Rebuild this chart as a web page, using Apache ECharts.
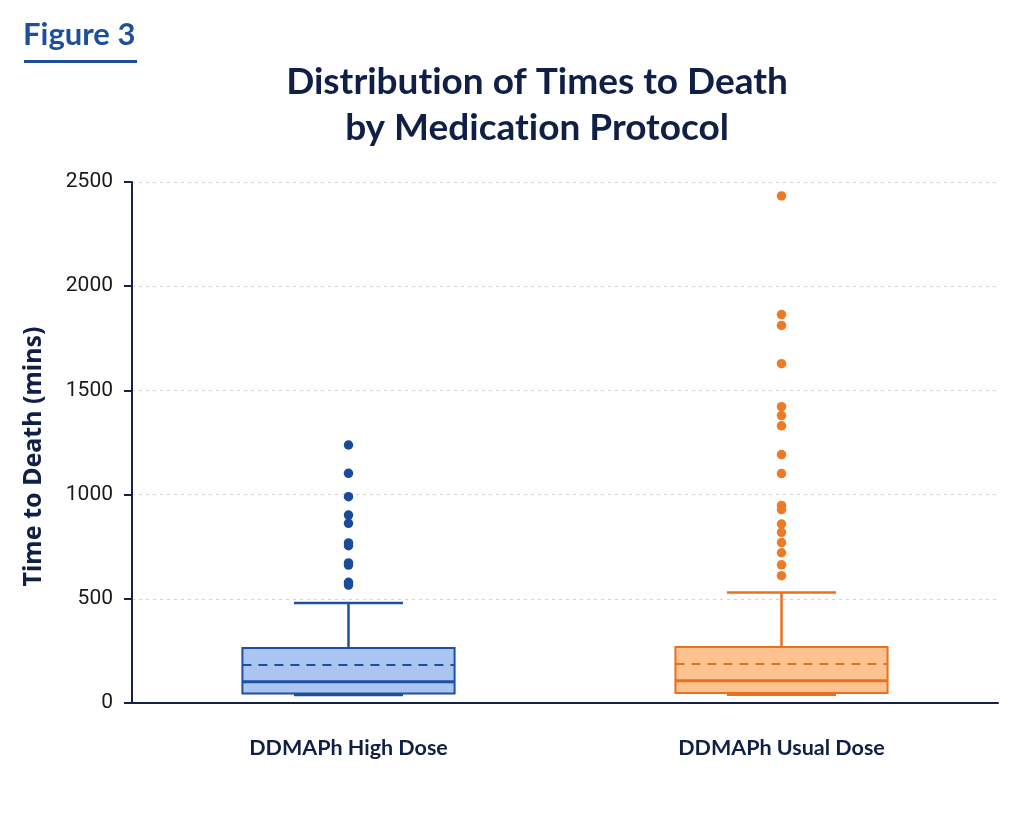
<!DOCTYPE html>
<html>
<head>
<meta charset="utf-8">
<script src="https://cdn.jsdelivr.net/npm/echarts@6/dist/echarts.min.js"></script>
<style>
html,body{margin:0;padding:0;background:#fff;}
#chart{width:1024px;height:819px;}
</style>
</head>
<body>
<div id="chart"></div>
<script>
const categories = ['DDMAPh High Dose', 'DDMAPh Usual Dose'];
const lowWhisker = [38, 40];
const q1 = [46, 48];
const median = [102, 107];
const q3 = [264, 269];
const highWhisker = [480, 530];
const mean = [182, 187];
const highDoseOutliers = [1238, 1102, 990, 902, 862, 768, 755, 672, 662, 579, 566];
const usualDoseOutliers = [2433, 1864, 1812, 1628, 1422, 1379, 1330, 1192, 1101, 948, 928, 859, 819, 770, 721, 663, 611];
const yMin = 0, yMax = 2500, yInterval = 500;

const strokeColors = ['#1f4fa0', '#e8711d'];
const fillColors = ['#a9c5f0', '#fcc290'];
const dotColors = ['#1a4b9b', '#ef7a24'];

const boxData = categories.map((c, i) => [i, lowWhisker[i], q1[i], median[i], q3[i], highWhisker[i], mean[i]]);

const chart = echarts.init(document.getElementById('chart'));

function renderBox(params, api) {
  const i = api.value(0);
  const band = api.size([1, 0])[0];
  const bw = band * 0.49;
  const cw = band * 0.252;
  const pLow = api.coord([i, api.value(1)]);
  const pQ1 = api.coord([i, api.value(2)]);
  const pMed = api.coord([i, api.value(3)]);
  const pQ3 = api.coord([i, api.value(4)]);
  const pHigh = api.coord([i, api.value(5)]);
  const pMean = api.coord([i, api.value(6)]);
  const x = pMed[0];
  const sc = strokeColors[i];
  return {
    type: 'group',
    children: [
      { type: 'line', shape: { x1: x, y1: pHigh[1], x2: x, y2: pQ3[1] }, style: { stroke: sc, lineWidth: 2.5 } },
      { type: 'line', shape: { x1: x - cw / 2, y1: pHigh[1], x2: x + cw / 2, y2: pHigh[1] }, style: { stroke: sc, lineWidth: 2.5 } },
      { type: 'line', shape: { x1: x, y1: pQ1[1], x2: x, y2: pLow[1] }, style: { stroke: sc, lineWidth: 2 } },
      { type: 'line', shape: { x1: x - cw / 2, y1: pLow[1], x2: x + cw / 2, y2: pLow[1] }, style: { stroke: sc, lineWidth: 2.5 } },
      { type: 'rect', shape: { x: x - bw / 2, y: pQ3[1], width: bw, height: pQ1[1] - pQ3[1] }, style: { fill: fillColors[i], stroke: sc, lineWidth: 2 } },
      { type: 'line', shape: { x1: x - bw / 2, y1: pMean[1], x2: x + bw / 2, y2: pMean[1] }, style: { stroke: sc, lineWidth: 2, lineDash: [9, 7] } },
      { type: 'line', shape: { x1: x - bw / 2, y1: pMed[1], x2: x + bw / 2, y2: pMed[1] }, style: { stroke: sc, lineWidth: 3 } }
    ]
  };
}

const titleStyle = { font: 'bold 37px Lato', fontFamily: 'Lato', fontWeight: 'bold', fontSize: 37, fill: '#0f1f45', color: '#0f1f45', lineHeight: 46 };

const option = {
  backgroundColor: '#ffffff',
  animation: false,
  grid: { left: 132, right: 26, top: 182, bottom: 116 },
  graphic: [
    { type: 'text', left: 23, top: 19, style: { text: 'Figure 3', font: 'bold 31px Lato', fill: '#1d4f9a' } },
    { type: 'rect', shape: { x: 24, y: 60, width: 113, height: 3 }, style: { fill: '#1d4f9a' } },
    {
      type: 'text', x: 537, y: 59,
      style: {
        text: '{t|Distribut}{t|ion of Times to Death}\n{t|by Medicat}{t|ion Protocol}',
        rich: { t: titleStyle },
        font: 'bold 37px Lato', fill: '#0f1f45', textAlign: 'center', textVerticalAlign: 'top', lineHeight: 46
      }
    }
  ],
  xAxis: {
    type: 'category',
    data: categories,
    axisLine: { lineStyle: { color: '#16214a', width: 2 } },
    axisTick: { show: false },
    axisLabel: { margin: 34, fontFamily: 'Lato', fontWeight: 'bold', fontSize: 21.5, color: '#0f1f45' },
    splitLine: { show: false }
  },
  yAxis: {
    type: 'value',
    min: yMin,
    max: yMax,
    interval: yInterval,
    name: 'Time to Death (mins)',
    nameLocation: 'middle',
    nameGap: 86,
    nameTextStyle: { fontFamily: 'Noto Sans', fontWeight: 'bold', fontSize: 25, color: '#0f1f45', padding: [0, 28, 0, 0] },
    axisLine: { show: true, lineStyle: { color: '#16214a', width: 2 } },
    axisTick: { show: true, length: 8, lineStyle: { color: '#16214a', width: 2 } },
    axisLabel: { margin: 19, fontFamily: 'Roboto', fontSize: 21, color: '#1a1a1a', formatter: v => String(v) },
    splitLine: { show: true, lineStyle: { color: '#d4d4d4', type: [3, 4], width: 1 } }
  },
  series: [
    {
      type: 'custom',
      name: 'box',
      data: boxData,
      encode: { x: 0, y: [1, 2, 3, 4, 5, 6] },
      renderItem: renderBox,
      z: 2
    },
    {
      type: 'scatter',
      name: categories[0],
      data: highDoseOutliers.map(v => [categories[0], v]),
      symbolSize: 9.5,
      itemStyle: { color: dotColors[0], opacity: 1 },
      z: 3
    },
    {
      type: 'scatter',
      name: categories[1],
      data: usualDoseOutliers.map(v => [categories[1], v]),
      symbolSize: 9.5,
      itemStyle: { color: dotColors[1], opacity: 1 },
      z: 3
    }
  ]
};
chart.setOption(option);
</script>
</body>
</html>
